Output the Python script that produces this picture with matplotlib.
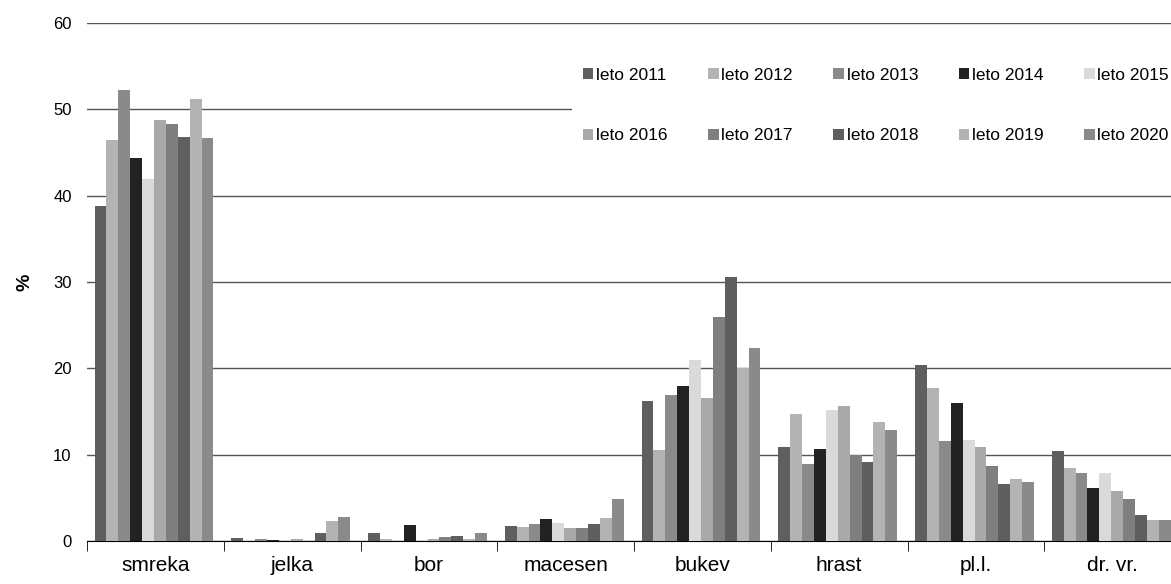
import matplotlib.pyplot as plt
import numpy as np

plt.rcParams['font.family'] = ['Liberation Sans', 'DejaVu Sans']

kategorije = ['smreka', 'jelka', 'bor', 'macesen', 'bukev', 'hrast', 'pl.l.', 'dr. vr.']
leta = ['leto 2011', 'leto 2012', 'leto 2013', 'leto 2014', 'leto 2015',
        'leto 2016', 'leto 2017', 'leto 2018', 'leto 2019', 'leto 2020']

# delezi (%) po letih, vrstni red kot kategorije
l2011 = [38.8, 0.35, 0.9, 1.75, 16.2, 10.9, 20.4, 10.4]
l2012 = [46.4, 0.05, 0.25, 1.65, 10.5, 14.7, 17.7, 8.5]
l2013 = [52.2, 0.25, 0.05, 2.0, 16.9, 8.9, 11.6, 7.85]
l2014 = [44.4, 0.1, 1.8, 2.5, 17.9, 10.7, 16.0, 6.15]
l2015 = [41.9, 0.05, 0.05, 2.05, 21.0, 15.2, 11.7, 7.9]
l2016 = [48.8, 0.25, 0.2, 1.45, 16.6, 15.6, 10.9, 5.75]
l2017 = [48.3, 0.05, 0.45, 1.45, 26.0, 10.0, 8.7, 4.85]
l2018 = [46.8, 0.9, 0.6, 2.0, 30.6, 9.2, 6.6, 3.0]
l2019 = [51.2, 2.3, 0.2, 2.7, 20.0, 13.8, 7.2, 2.4]
l2020 = [46.7, 2.8, 0.9, 4.9, 22.4, 12.8, 6.8, 2.4]
podatki = [l2011, l2012, l2013, l2014, l2015, l2016, l2017, l2018, l2019, l2020]

barve = ['#5f5f5f', '#b3b3b3', '#8a8a8a', '#222222', '#dadada',
         '#a9a9a9', '#7f7f7f', '#5f5f5f', '#b3b3b3', '#8a8a8a']

fig = plt.figure(figsize=(11.71, 5.84), dpi=100)
ax = fig.add_axes([87/1171, 43/584, 1094/1171, 518/584])

x = np.arange(len(kategorije))
w = 0.087
for i, (vals, c, lab) in enumerate(zip(podatki, barve, leta)):
    ax.bar(x + (i - 4.5) * w - 0.01, vals, width=w, color=c, label=lab, zorder=3)

ax.set_xlim(-0.5, 7.5)
ax.set_ylim(0, 60)
ax.set_yticks(range(0, 61, 10))
ax.yaxis.grid(True, color='#555555', linewidth=1, zorder=0)
ax.set_axisbelow(True)

ax.set_xticks(x)
ax.set_xticklabels(kategorije, fontsize=15)
ax.set_xticks(np.arange(-0.5, 7.6, 1), minor=True)
ax.tick_params(axis='x', which='major', length=0, pad=11)
ax.tick_params(axis='x', which='minor', length=7, direction='out', color='black')
ax.tick_params(axis='y', length=0, labelsize=12, pad=11)

for s in ['top', 'right', 'left']:
    ax.spines[s].set_visible(False)
ax.spines['bottom'].set_color('black')

ax.set_ylabel('%', fontsize=14, fontweight='bold', labelpad=14)

# vrstni red za vrstice (legenda se polni po stolpcih)
h, l = ax.get_legend_handles_labels()
red = [0, 5, 1, 6, 2, 7, 3, 8, 4, 9]
leg = ax.legend([h[k] for k in red], [l[k] for k in red], ncol=5, loc='upper right',
                bbox_to_anchor=(1188/1171, 1 - 49/584),
                bbox_transform=fig.transFigure, frameon=True, fancybox=False,
                fontsize=12.5, handlelength=0.6, handleheight=0.6, handletextpad=0.15,
                columnspacing=2.35, labelspacing=2.6, borderpad=0.6)
leg.get_frame().set_facecolor('white')
leg.get_frame().set_edgecolor('none')
leg.get_frame().set_alpha(1)
leg.set_zorder(5)

fig.savefig('out.png', dpi=100)
